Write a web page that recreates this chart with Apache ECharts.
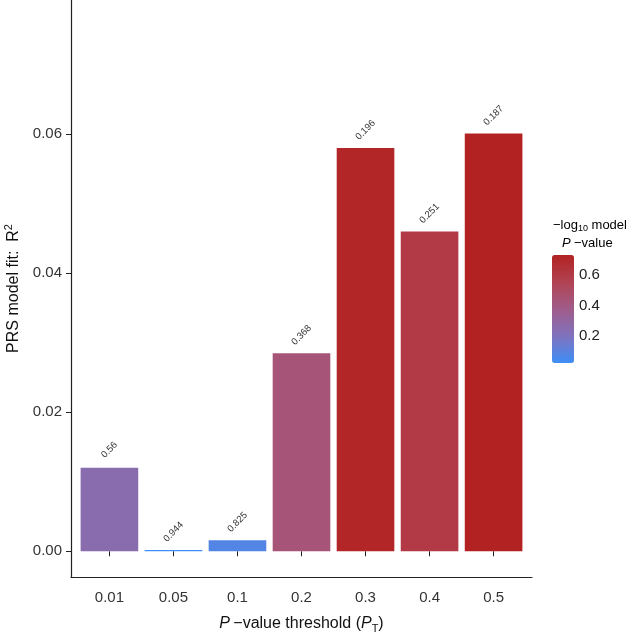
<!DOCTYPE html>
<html>
<head>
<meta charset="utf-8">
<script src="https://cdn.jsdelivr.net/npm/echarts@6/dist/echarts.min.js"></script>
<style>
html,body{margin:0;padding:0;background:#fff;}
#chart{width:633px;height:633px;}
</style>
</head>
<body>
<div id="chart"></div>
<script>
// ---- data ----
const categories = ['0.01', '0.05', '0.1', '0.2', '0.3', '0.4', '0.5'];
const r2Values = [0.0120, 0.0002, 0.0016, 0.0285, 0.0580, 0.0460, 0.0601];
const pValues = [0.56, 0.944, 0.825, 0.368, 0.196, 0.251, 0.187];
const yTicks = [0, 0.02, 0.04, 0.06];
const legendTicks = [0.2, 0.4, 0.6];

const negLog = pValues.map(p => -Math.log10(p));
const vmMin = Math.min(...negLog);
const vmMax = Math.max(...negLog);

const FONT = 'Liberation Sans, Arial, Helvetica, sans-serif';
const chart = echarts.init(document.getElementById('chart'));

const lgTop = 255, lgLeft = 552, lgW = 22, lgH = 108;
const legendGraphics = [];
legendTicks.forEach(v => {
  const y = lgTop + lgH * (vmMax - v) / (vmMax - vmMin);
  legendGraphics.push({type: 'line', shape: {x1: lgLeft, y1: y, x2: lgLeft + 4, y2: y}, style: {stroke: 'rgba(255,255,255,0.8)', lineWidth: 1}});
  legendGraphics.push({type: 'line', shape: {x1: lgLeft + lgW - 4, y1: y, x2: lgLeft + lgW, y2: y}, style: {stroke: 'rgba(255,255,255,0.8)', lineWidth: 1}});
  legendGraphics.push({type: 'text', x: lgLeft + lgW + 5, y: y, style: {text: v.toFixed(1), font: '15px ' + FONT, fill: '#222', verticalAlign: 'middle', align: 'left'}});
});
legendGraphics.push({
  type: 'text', x: 553, y: 225,
  style: {
    text: '{a|\u2212log}{s|10}{a| model}',
    verticalAlign: 'middle',
    rich: {
      a: {fontSize: 13, fontFamily: FONT, color: '#222'},
      s: {fontSize: 9, fontFamily: FONT, color: '#222', padding: [8, 0, 0, 0]}
    }
  }
});
legendGraphics.push({
  type: 'text', x: 562, y: 243,
  style: {
    text: '{i|P} {a|\u2212value}',
    verticalAlign: 'middle',
    rich: {
      a: {fontSize: 13, fontFamily: FONT, color: '#222'},
      i: {fontSize: 13, fontFamily: FONT, fontStyle: 'italic', color: '#222'}
    }
  }
});

const option = {
  animation: false,
  textStyle: {fontFamily: FONT},
  grid: [
    {left: 77.4, right: 107.4, top: 0, bottom: 56, outerBoundsMode: 'none', containLabel: false},
    {left: 71, right: 101, top: 0, bottom: 56, outerBoundsMode: 'none', containLabel: false}
  ],
  xAxis: [
    {
      type: 'category', gridIndex: 0, data: categories,
      axisLine: {show: false},
      axisTick: {show: true, alignWithLabel: true, length: 5, lineStyle: {color: '#222', width: 1}},
      axisLabel: {fontSize: 15, color: '#333', margin: 13, fontFamily: FONT},
      splitLine: {show: false},
      name: '{i|P} {a|\u2212value threshold (}{i|P}{s|T}{a|)}',
      nameLocation: 'middle', nameGap: 36,
      nameTextStyle: {
        rich: {
          a: {fontSize: 16, fontFamily: FONT, color: '#111'},
          i: {fontSize: 16, fontFamily: FONT, fontStyle: 'italic', color: '#111'},
          s: {fontSize: 11, fontFamily: FONT, color: '#111', padding: [10, 0, 0, 0]}
        }
      }
    },
    {
      type: 'value', gridIndex: 1, min: 0, max: 1,
      axisLine: {show: true, onZero: false, lineStyle: {color: '#222', width: 1.2}},
      axisTick: {show: false}, axisLabel: {show: false}, splitLine: {show: false}
    }
  ],
  yAxis: [
    {
      type: 'value', gridIndex: 0, min: -0.0037, max: 0.0793, offset: 6.4,
      axisLine: {show: true, lineStyle: {color: '#222', width: 1.2}},
      axisTick: {show: true, length: 5, customValues: yTicks, lineStyle: {color: '#222', width: 1}},
      axisLabel: {fontSize: 15, color: '#333', margin: 9, customValues: yTicks, formatter: v => v.toFixed(2), fontFamily: FONT},
      splitLine: {show: false},
      name: '{a|PRS model fit:  R}{s|2}',
      nameLocation: 'middle', nameGap: 46,
      nameTextStyle: {
        rich: {
          a: {fontSize: 16, fontFamily: FONT, color: '#111'},
          s: {fontSize: 11, fontFamily: FONT, color: '#111', padding: [0, 0, 9, 0]}
        }
      }
    },
    {type: 'value', gridIndex: 1, min: 0, max: 1, show: false}
  ],
  visualMap: {
    type: 'continuous', min: vmMin, max: vmMax, dimension: 2, seriesIndex: 0,
    calculable: false, orient: 'vertical', left: lgLeft, top: lgTop,
    itemWidth: lgW, itemHeight: lgH, padding: 0, text: null,
    inRange: {color: ['#3d8ff7', '#8072bd', '#a05c8a', '#b14353', '#b22222']}
  },
  graphic: legendGraphics,
  series: [{
    type: 'bar', xAxisIndex: 0, yAxisIndex: 0,
    barCategoryGap: '10%',
    data: categories.map((c, i) => [c, r2Values[i], negLog[i]]),
    encode: {x: 0, y: 1},
    label: {
      show: true, position: 'top', distance: 18, rotate: 45,
      align: 'center', verticalAlign: 'middle',
      fontSize: 9.5, color: '#333', fontFamily: FONT,
      formatter: p => String(pValues[p.dataIndex])
    }
  }]
};
chart.setOption(option);
</script>
</body>
</html>
